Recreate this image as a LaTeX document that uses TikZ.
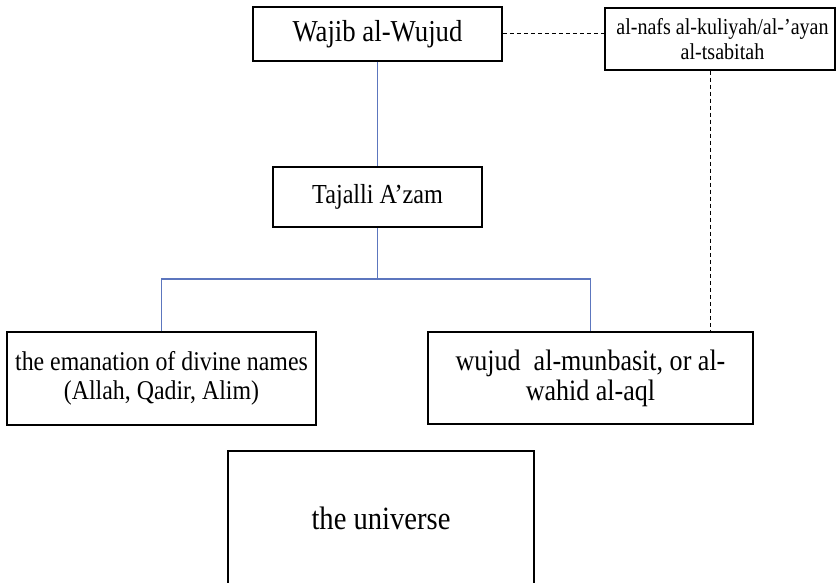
\documentclass[tikz,border=0pt]{standalone}
\usepackage{fontspec}
\setmainfont{Liberation Serif}[FakeStretch=0.88]
\definecolor{conn}{RGB}{92,118,190}
\begin{document}
\begin{tikzpicture}[x=1pt,y=-1pt,
  box/.style={draw=black, line width=1.5pt, inner sep=0pt, align=center, text=black},
  link/.style={draw=conn, line width=1.5pt},
  dashlink/.style={draw=black, line width=1pt, dash pattern=on 4pt off 3pt}]
\useasboundingbox (0,0) rectangle (836,583);
\clip (0,0) rectangle (836,583);
\node[box, minimum width=249pt, minimum height=54pt, font=\fontsize{30.4}{36}\selectfont] (wajib) at (377.5,34) {Wajib al-Wujud};
\node[box, minimum width=230pt, minimum height=62pt, font=\fontsize{22.8}{25}\selectfont] (nafs) at (720,39) {\hspace*{5pt}al-nafs al-kuliyah/al-’ayan\\\hspace*{5pt}al-tsabitah};
\node[box, minimum width=209pt, minimum height=60pt, font=\fontsize{27.5}{32}\selectfont] (tajalli) at (377.5,197) {Tajalli A’zam};
\node[box, minimum width=309pt, minimum height=93pt, font=\fontsize{27.1}{29}\selectfont] (left) at (161.5,378.5) {the emanation of divine names\\(Allah, Qadir, Alim)};
\node[box, minimum width=325pt, minimum height=92pt, font=\fontsize{29.6}{30}\selectfont] (right) at (590.5,378) {wujud~ al-munbasit, or al-\\wahid al-aql};
\node[box, minimum width=306pt, minimum height=134pt, font=\fontsize{32.5}{36}\selectfont] (universe) at (381,518) {the universe};
\coordinate (bus) at (377.5,279);
\coordinate (dx) at (710,0);
\draw[link] (wajib.south) -- (tajalli.north);
\draw[link] (tajalli.south) -- (bus);
\draw[link] (left.north) |- (bus) -| (right.north);
\draw[dashlink] (wajib.east) -- (wajib.east -| nafs.west);
\draw[dashlink] (nafs.south -| dx) -- (right.north -| dx);
\end{tikzpicture}
\end{document}
